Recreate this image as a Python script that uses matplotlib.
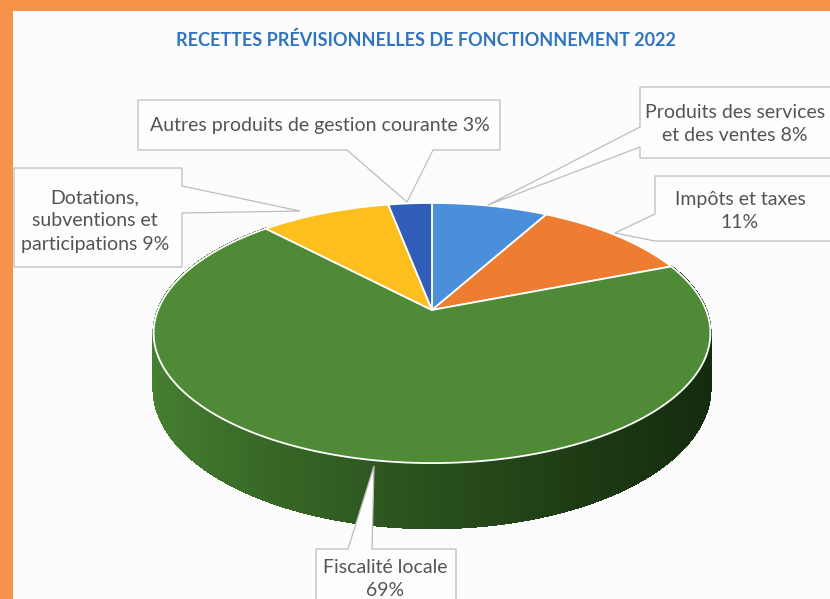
import numpy as np
import matplotlib.pyplot as plt
from matplotlib.patches import Polygon, Rectangle
from matplotlib.collections import PolyCollection

# Data
categories = [
    "Produits des services\net des ventes",
    "Impôts et taxes",
    "Fiscalité locale",
    "Dotations,\nsubventions et\nparticipations",
    "Autres produits de gestion courante",
]
shares = [8, 11, 69, 9, 3]
separators = [" ", "\n", "\n", " ", " "]
colors = ["#4A8FDA", "#EE7D31", "#4F8A37", "#FDBF1E", "#2F5DB8"]
title = "RECETTES PRÉVISIONNELLES DE FONCTIONNEMENT 2022"

plt.rcParams["font.family"] = ["Lato", "DejaVu Sans"]

fig = plt.figure(figsize=(8.30, 5.99), dpi=100)
fig.patch.set_facecolor("#F7924B")
ax = fig.add_axes([0, 0, 1, 1])
ax.set_xlim(0, 830)
ax.set_ylim(599, 0)
ax.axis("off")

# white panel inside the orange frame
ax.add_patch(Rectangle((13, 11), 830, 600, facecolor="#FCFCFC", edgecolor="none", zorder=0))

ax.text(426, 40, title, ha="center", va="center", fontsize=13,
        fontweight="bold", color="#2E74C0")

# perspective pie geometry
cx, cy = 432, 310
f, c, q = 274, 126, 0.177
depth = 53.5


def proj(theta_deg, down=False):
    t = np.radians(theta_deg)
    X, Y = np.sin(t), np.cos(t)
    den = 1 + q * Y
    x = cx + f * X / den
    y = cy - c * Y / den
    if down:
        y = y + depth / den
    return x, y


fracs = np.array(shares) / sum(shares)
bounds = np.concatenate([[0], np.cumsum(fracs) * 360])

# side of the big slice (only one visible from the front)
big = int(np.argmax(shares))
ts = np.linspace(bounds[big], bounds[big + 1], 300)
light = np.array([0x46, 0x80, 0x31]) / 255
dark = np.array([0x14, 0x2C, 0x0D]) / 255
quads, qcols = [], []
for a, b in zip(ts[:-1], ts[1:]):
    xa, ya = proj(a)
    xb, yb = proj(b)
    xa2, ya2 = proj(a, True)
    xb2, yb2 = proj(b, True)
    quads.append([(xa, ya), (xb, yb), (xb2, yb2), (xa2, ya2)])
    s = np.clip((xa - 154) / (710 - 154), 0, 1) ** 0.8
    qcols.append(light * (1 - s) + dark * s)
ax.add_collection(PolyCollection(quads, facecolors=qcols, edgecolors=qcols,
                                 linewidths=1.0, antialiased=False, zorder=1))

# top faces
for i, col in enumerate(colors):
    tt = np.linspace(bounds[i], bounds[i + 1], 200)
    pts = [(cx, cy)] + [proj(t) for t in tt]
    ax.add_patch(Polygon(pts, closed=True, facecolor=col, edgecolor="white",
                         linewidth=1.3, zorder=2))


# callout boxes
def callout(rect, side, base, tip):
    x0, y0, x1, y1 = rect
    a, b = base
    pts = [(x0, y0)]
    if side == "top":
        pts += [(a, y0), tip, (b, y0)]
    pts.append((x1, y0))
    if side == "right":
        pts += [(x1, a), tip, (x1, b)]
    pts.append((x1, y1))
    if side == "bottom":
        pts += [(b, y1), tip, (a, y1)]
    pts.append((x0, y1))
    if side == "left":
        pts += [(x0, b), tip, (x0, a)]
    ax.add_patch(Polygon(pts, closed=True, facecolor="#FDFDFD",
                         edgecolor="#BDBDBD", linewidth=0.9, zorder=3))


boxes = [
    ((640, 87, 840, 158), "left", (127, 147), (488, 205), (735, 124)),
    ((655, 176, 840, 241), "left", (214, 241), (615, 233), (740, 211)),
    ((316, 549, 456, 620), "top", (348, 372), (374, 466), (385, 579)),
    ((14, 168, 182, 267), "right", (186, 213), (300, 211), (95, 221)),
    ((138, 100, 500, 150), "bottom", (347, 433), (407, 202), (320, 126)),
]

for i, (rect, side, base, tip, txy) in enumerate(boxes):
    callout(rect, side, base, tip)
    label = categories[i] + separators[i] + f"{shares[i]}%"
    ax.text(txy[0], txy[1], label, ha="center", va="center", fontsize=14,
            color="#545454", linespacing=1.45, zorder=4)

fig.savefig("out.png", dpi=100, facecolor=fig.get_facecolor())
